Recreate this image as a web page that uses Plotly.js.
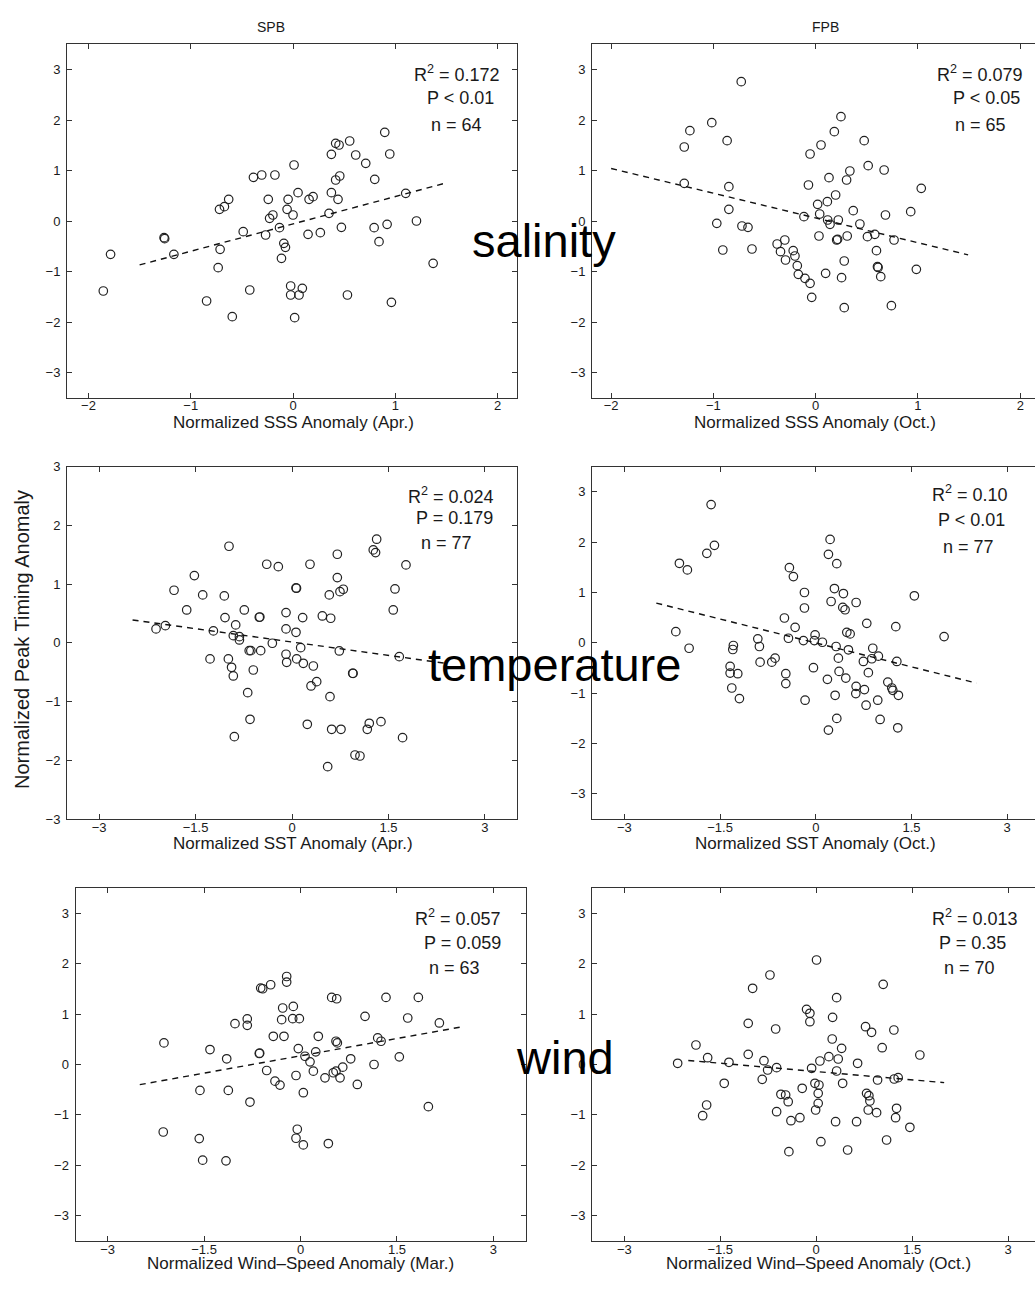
<!DOCTYPE html>
<html>
<head>
<meta charset="utf-8">
<script src="https://cdn.plot.ly/plotly-3.0.1.min.js"></script>
<style>html,body{margin:0;padding:0;background:#fff;}#chart{width:1035px;height:1290px;}</style>
</head>
<body>
<div id="chart"></div>
<script>
// ---------------- DATA ----------------
const columnTitles = ["SPB", "FPB"];
const rowLabels = ["salinity", "temperature", "wind"];
const xTitles = [
  "Normalized SSS Anomaly (Apr.)", "Normalized SSS Anomaly (Oct.)",
  "Normalized SST Anomaly (Apr.)", "Normalized SST Anomaly (Oct.)",
  "Normalized Wind\u2013Speed Anomaly (Mar.)", "Normalized Wind\u2013Speed Anomaly (Oct.)"
];
const yTitle = "Normalized Peak Timing Anomaly";
const statR2 = ["0.172", "0.079", "0.024", "0.10", "0.057", "0.013"];
const statP = ["P < 0.01", "P < 0.05", "P = 0.179", "P < 0.01", "P = 0.059", "P = 0.35"];
const statN = [64, 65, 77, 77, 63, 70];
const ticks2 = [-2, -1, 0, 1, 2];
const ticks3 = [-3, -1.5, 0, 1.5, 3];
const yTicks = [-3, -2, -1, 0, 1, 2, 3];

// SPB salinity (SSS Apr.)
const sssAprX = [-1.855,-1.784,-1.261,-1.255,-1.165,-0.845,-0.732,-0.713,-0.719,-0.671,-0.629,-0.594,-0.487,-0.423,-0.387,-0.306,-0.177,-0.242,-0.268,-0.229,-0.197,-0.132,-0.090,-0.074,-0.113,-0.048,-0.058,
  0.01,0.049,0,-0.023,-0.023,0.091,0.059,0.016,0.147,0.157,0.196,0.267,0.352,0.375,0.417,0.450,0.554,0.613,0.711,0.417,0.457,0.375,0.440,0.473,0.799,0.897,0.946,0.793,0.920,0.841,0.532,0.962,1.102,1.207,1.370];
const sssAprY = [-1.386,-0.66,-0.33,-0.35,-0.66,-1.584,-0.924,-0.561,0.231,0.284,0.429,-1.894,-0.211,-1.366,0.865,0.911,0.911,0.429,-0.277,0.053,0.119,-0.132,-0.442,-0.521,-0.739,0.429,0.231,
  1.109,0.561,0.119,-1.287,-1.465,-1.333,-1.465,-1.914,-0.264,0.429,0.482,-0.231,0.152,1.32,1.538,1.505,1.584,1.307,1.142,0.812,0.891,0.561,0.429,-0.125,0.825,1.756,1.327,-0.132,-0.066,-0.409,-1.465,-1.611,0.548,0,-0.838];
const sssAprFitX = [-1.5, 1.49];
const sssAprFitY = [-0.87, 0.75];

// FPB salinity (SSS Oct.)
const sssOctX = [-0.728,-1.016,-1.230,-1.285,-0.866,-1.285,-0.849,-0.849,-0.967,-0.721,-0.662,-0.908,-0.623,-0.377,-0.302,-0.344,-0.295,-0.220,-0.203,-0.180,-0.170,-0.105,-0.115,
  -0.055,-0.039,-0.055,-0.071,0.052,0.182,0.247,0.474,0.130,0.334,0.302,0.513,0.669,1.032,0.019,0.114,0.195,0.039,0.117,0.140,0.221,0.367,0.432,0.682,0.929,0.032,0.205,0.214,0.308,0.506,0.578,0.766,0.594,0.279,0.097,0.253,0.604,0.61,0.636,0.984,0.279,0.740];
const sssOctY = [2.759,1.947,1.789,1.465,1.591,0.746,0.680,0.231,-0.046,-0.099,-0.125,-0.574,-0.554,-0.455,-0.376,-0.607,-0.772,-0.587,-0.693,-0.884,-1.056,-1.135,0.086,
  -1.234,-1.512,1.327,0.713,1.505,1.769,2.066,1.591,0.858,0.990,0.812,1.096,1.01,0.647,0.33,0.383,0.515,0.139,0.02,-0.066,0.02,0.205,-0.059,0.119,0.185,-0.297,-0.376,-0.363,-0.297,-0.31,-0.264,-0.376,-0.587,-0.792,-1.036,-1.122,-0.904,-0.92,-1.102,-0.957,-1.716,-1.677];
const sssOctFitX = [-2.0, 1.49];
const sssOctFitY = [1.04, -0.67];

// SPB temperature (SST Apr.)
const sstAprX = [-2.115,-1.97,-1.835,-1.519,-1.638,-1.389,-1.223,-1.275,-1.053,-0.98,-1.042,-0.876,-0.913,-0.818,-0.818,-0.99,-0.94,-0.913,-0.742,-0.509,-0.5,-0.666,-0.64,-0.487,-0.602,-0.689,-0.653,-0.897,-0.393,-0.213,-0.306,-0.093,-0.093,-0.093,-0.083,
  0.062,0.062,0.07,0.166,0.28,0.705,0.705,0.58,0.746,0.798,0.472,0.602,1.317,1.264,1.3,1.773,1.602,1.575,0.135,0.073,0.176,0.332,0.736,0.944,0.95,0.296,0.384,0.591,1.669,0.238,0.617,0.762,1.171,1.202,1.384,1.72,0.98,1.057,0.555];
const sstAprY = [0.237,0.293,0.896,1.145,0.56,0.816,0.203,-0.274,0.799,1.645,0.43,0.305,0.123,0.106,0.049,-0.274,-0.416,-0.564,0.56,0.436,0.44,-0.133,-0.133,-0.133,-0.462,-0.848,-1.302,-1.598,1.339,1.298,-0.007,0.515,0.237,-0.194,-0.331,
  0.18,0.935,0.93,0.43,1.339,1.509,1.111,0.816,0.872,0.913,0.458,0.419,1.765,1.583,1.537,1.327,0.918,0.56,-0.082,-0.274,-0.348,-0.394,-0.138,-0.518,-0.52,-0.734,-0.661,-0.916,-0.235,-1.387,-1.472,-1.472,-1.472,-1.37,-1.342,-1.615,-1.91,-1.927,-2.109];
const sstAprFitX = [-2.48, 2.4];
const sstAprFitY = [0.39, -0.35];

// FPB temperature (SST Oct.)
const sstOctX = [-1.641,-1.589,-1.708,-2.138,-2.013,-2.194,-1.986,-1.292,-1.301,-1.343,-1.343,-1.223,-1.317,-1.197,-0.909,-0.884,-0.873,-0.690,-0.638,-0.492,-0.429,-0.324,-0.47,-0.47,-0.414,-0.351,-0.178,-0.178,-0.194,-0.168,
  -0.037,0.224,0.198,0.329,0.292,0.433,0.24,0.423,0.459,0.632,0.799,1.254,1.545,2.011,0.486,0.538,-0.011,-0.022,0.103,0.318,0.511,0.354,0.893,0.746,0.878,0.981,1.27,0.365,0.47,0.824,0.182,0.632,0.627,0.762,1.129,1.191,1.207,1.295,0.303,0.788,0.971,0.329,0.198,1.008,1.285];
const sstOctY = [2.747,1.937,1.779,1.581,1.449,0.223,-0.107,-0.053,-0.132,-0.468,-0.601,-0.613,-0.897,-1.107,0.079,-0.073,-0.383,-0.383,-0.304,0.494,0.091,0.308,-0.613,-0.81,1.494,1.316,1.0,0.692,0.045,-1.14,
  -0.494,2.055,1.759,1.573,1.079,0.98,0.822,0.704,0.658,0.802,0.387,0.322,0.935,0.125,0.209,0.178,0.158,0.045,0.012,-0.073,-0.138,-0.304,-0.107,-0.37,-0.316,-0.265,-0.37,-0.567,-0.7,-0.593,-0.725,-0.864,-1.008,-0.929,-0.779,-0.897,-0.943,-1.042,-1.042,-1.239,-1.14,-1.502,-1.733,-1.522,-1.688];
const sstOctFitX = [-2.5, 2.52];
const sstOctFitY = [0.79, -0.80];

// SPB wind (Wind-Speed Mar.)
const windMarX = [-2.124,-2.135,-1.408,-1.564,-1.575,-1.522,-1.148,-1.123,-1.159,-1.019,-0.828,-0.828,-0.786,-0.641,-0.635,-0.619,-0.588,-0.464,-0.526,-0.397,-0.319,-0.423,-0.257,-0.293,-0.277,-0.215,-0.215,
  -0.112,-0.121,-0.018,0.277,-0.034,0.07,0.148,0.237,0.2,-0.07,0.044,-0.05,-0.07,0.044,0.433,0.485,0.563,0.552,0.573,0.381,0.51,0.552,0.615,0.657,0.781,0.884,1.004,1.144,1.201,1.253,1.33,1.537,1.668,1.833,2.16,1.989];
const windMarY = [0.429,-1.339,0.297,-0.514,-1.47,-1.898,0.113,-0.514,-1.912,0.811,0.904,0.777,-0.745,0.218,0.225,1.516,1.503,1.582,-0.119,-0.33,-0.409,0.56,0.56,0.89,1.121,1.746,1.635,
  1.153,0.91,0.91,0.56,0.316,0.164,0.053,0.251,-0.132,-0.218,-0.56,-1.285,-1.463,-1.595,-1.568,1.331,1.305,0.461,0.429,-0.264,-0.164,-0.132,-0.264,-0.053,0.113,-0.396,0.955,0,0.527,0.461,1.331,0.152,0.923,1.331,0.824,-0.837];
const windMarFitX = [-2.5, 2.48];
const windMarFitY = [-0.4, 0.74];

// FPB wind (Wind-Speed Oct.)
const windOctX = [-2.166,-1.88,-1.697,-1.713,-1.775,-1.438,-1.364,-1.063,-0.994,-0.723,-1.063,-0.634,-0.817,-0.759,-0.619,-0.844,-0.552,-0.478,-0.438,-0.619,-0.395,-0.255,-0.427,-0.219,
  0.005,0.319,-0.151,-0.099,-0.099,0.256,1.047,0.771,0.865,1.214,0.25,0.397,1.031,1.62,0.198,0.344,0.058,0.647,-0.072,0.319,0.413,0.959,1.219,1.281,-0.02,0.042,0.031,0.031,-0.009,0.787,0.823,0.839,0.813,0.944,1.256,1.241,0.303,0.631,1.464,0.073,0.491,1.1];
const windOctY = [0.024,0.387,0.135,-0.804,-1.016,-0.373,0.044,0.817,1.512,1.776,0.202,0.704,0.075,-0.109,-0.063,-0.294,-0.591,-0.605,-0.738,-0.937,-1.115,-1.056,-1.73,-0.472,
  2.073,1.326,1.095,1.016,0.849,0.936,1.591,0.75,0.639,0.685,0.506,0.321,0.333,0.188,0.155,0.109,0.069,0.024,-0.075,-0.129,-0.373,-0.308,-0.288,-0.261,-0.373,-0.407,-0.572,-0.77,-0.903,-0.572,-0.619,-0.724,-0.903,-0.956,-0.869,-1.056,-1.135,-1.135,-1.246,-1.532,-1.696,-1.498];
const windOctFitX = [-2.0, 2.0];
const windOctFitY = [0.08, -0.36];

// ---------------- LAYOUT ----------------
const W = 1035, H = 1290;
const px = v => v / W;
const py = v => 1 - v / H;

const series = [
  {x: sssAprX, y: sssAprY, fx: sssAprFitX, fy: sssAprFitY},
  {x: sssOctX, y: sssOctY, fx: sssOctFitX, fy: sssOctFitY},
  {x: sstAprX, y: sstAprY, fx: sstAprFitX, fy: sstAprFitY},
  {x: sstOctX, y: sstOctY, fx: sstOctFitX, fy: sstOctFitY},
  {x: windMarX, y: windMarY, fx: windMarFitX, fy: windMarFitY},
  {x: windOctX, y: windOctY, fx: windOctFitX, fy: windOctFitY}
];

const panels = [
  {bx:[67,517], by:[44.25,397.75], xr:[-2.21,2.19], yr:[-3.5,3.5], xt:ticks2, right:false,
   stats:[[457,73],[460,98],[456,125]], title:[293,422]},
  {bx:[592,1035], by:[44.25,397.75], xr:[-2.187,2.144], yr:[-3.5,3.5], xt:ticks2, right:true,
   stats:[[980,73],[986,98],[980,125]], title:[815,422]},
  {bx:[67,517], by:[466.7,819], xr:[-3.5,3.5], yr:[-3,3], xt:ticks3, right:false,
   stats:[[451,495],[454,518],[446,543]], title:[293,843]},
  {bx:[592,1035], by:[466.7,819], xr:[-3.508,3.436], yr:[-3.5,3.5], xt:ticks3, right:true,
   stats:[[970,494],[971,520],[968,547]], title:[815,843]},
  {bx:[75.5,525.5], by:[888.1,1240.9], xr:[-3.5,3.5], yr:[-3.5,3.5], xt:ticks3, right:false,
   stats:[[458,917],[462,943],[454,968]], title:[300,1263]},
  {bx:[592,1035], by:[888.1,1240.9], xr:[-3.505,3.42], yr:[-3.5,3.5], xt:ticks3, right:true,
   stats:[[975,917],[972,943],[969,968]], title:[818,1263]}
];

const FONT = "Liberation Sans, Arial, Helvetica, sans-serif";
const INK = "#1a1a1a";
const traces = [];
const layout = {
  width: W, height: H,
  margin: {l:0, r:0, t:0, b:0},
  paper_bgcolor: "#fff", plot_bgcolor: "#fff",
  showlegend: false,
  font: {family: FONT, color: INK},
  annotations: []
};

function ann(text, x, y, size, extra) {
  return Object.assign({
    text: text, x: px(x), y: py(y), xref: "paper", yref: "paper",
    showarrow: false, xanchor: "center", yanchor: "middle",
    font: {family: FONT, size: size, color: INK}
  }, extra || {});
}

panels.forEach((p, i) => {
  const k = i + 1;
  const xa = "x" + (k === 1 ? "" : k), ya = "y" + (k === 1 ? "" : k);
  const s = series[i];
  traces.push({
    type: "scatter", mode: "markers", x: s.x, y: s.y, xaxis: xa, yaxis: ya,
    marker: {symbol: "circle-open", size: 8.5, color: "#222", line: {width: 1.2, color: "#222"}},
    hoverinfo: "x+y"
  });
  traces.push({
    type: "scatter", mode: "lines", x: s.fx, y: s.fy, xaxis: xa, yaxis: ya,
    line: {color: "#111", width: 1.4, dash: "6px,5px"}, hoverinfo: "skip"
  });
  const common = {
    showline: true, linecolor: "#333", linewidth: 1,
    ticks: "inside", ticklen: 5, tickcolor: "#333", tickwidth: 1,
    showgrid: false, zeroline: false, fixedrange: true,
    tickfont: {family: FONT, size: 13, color: INK}
  };
  layout["xaxis" + (k === 1 ? "" : k)] = Object.assign({}, common, {
    domain: [px(p.bx[0]), px(p.bx[1])], range: p.xr, anchor: ya,
    tickmode: "array", tickvals: p.xt, ticktext: p.xt.map(v => (v < 0 ? "\u2212" + Math.abs(v) : String(v))),
    mirror: "ticks", ticklabelstandoff: -4
  });
  layout["yaxis" + (k === 1 ? "" : k)] = Object.assign({}, common, {
    domain: [py(p.by[1]), py(p.by[0])], range: p.yr, anchor: xa,
    tickmode: "array", tickvals: yTicks, ticktext: yTicks.map(v => (v < 0 ? "\u2212" + Math.abs(v) : String(v))),
    mirror: p.right ? false : "ticks", ticklabelstandoff: 3
  });
  layout.annotations.push(ann("R<sup>2</sup> = " + statR2[i], p.stats[0][0], p.stats[0][1], 18));
  layout.annotations.push(ann(statP[i], p.stats[1][0], p.stats[1][1], 18));
  layout.annotations.push(ann("n = " + statN[i], p.stats[2][0], p.stats[2][1], 18));
  layout.annotations.push(ann(xTitles[i], p.title[0], p.title[1], 17));
});

layout.annotations.push(ann(columnTitles[0], 271, 27, 14));
layout.annotations.push(ann(columnTitles[1], 825, 27, 14));
layout.annotations.push(ann(yTitle, 22, 640, 20, {textangle: -90}));
layout.annotations.push(ann(rowLabels[0], 543.7, 241, 47, {font: {family: FONT, size: 47, color: "#000"}}));
layout.annotations.push(ann(rowLabels[1], 554.5, 664, 47, {font: {family: FONT, size: 47, color: "#000"}}));
layout.annotations.push(ann(rowLabels[2], 565.3, 1057, 47, {font: {family: FONT, size: 47, color: "#000"}}));

Plotly.newPlot("chart", traces, layout, {staticPlot: true, displayModeBar: false});
</script>
</body>
</html>
